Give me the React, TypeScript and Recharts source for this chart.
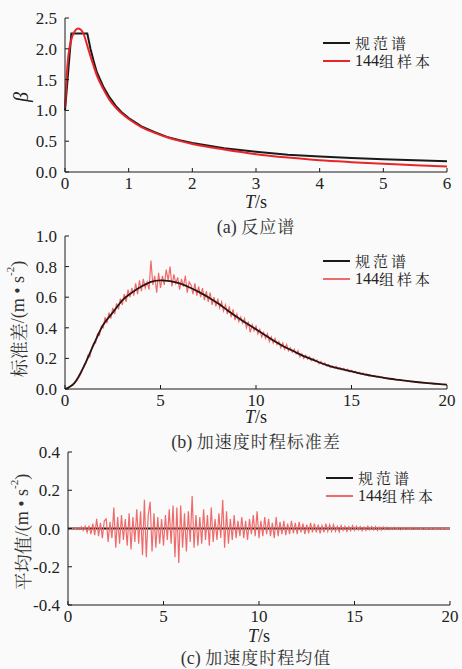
import React from 'react';
import { LineChart, Line, XAxis, YAxis, Legend } from 'recharts';

// (a) response spectrum
const specT = [0, 0.04, 0.1, 0.15, 0.2, 0.25, 0.3, 0.35, 0.4, 0.45, 0.5, 0.6, 0.7, 0.8, 0.9, 1.0, 1.2, 1.4, 1.6, 1.8, 2.0, 2.5, 3.0, 3.5, 4.0, 4.5, 5.0, 5.5, 6.0];
const specCode = [1.0, 1.5, 2.25, 2.25, 2.25, 2.25, 2.25, 2.25, 2.0, 1.8, 1.62, 1.39, 1.21, 1.07, 0.96, 0.875, 0.74, 0.65, 0.57, 0.515, 0.47, 0.385, 0.33, 0.28, 0.25, 0.226, 0.206, 0.19, 0.175];
const specSample = [1.04, 1.75, 2.15, 2.28, 2.33, 2.31, 2.22, 2.05, 1.88, 1.72, 1.57, 1.35, 1.17, 1.04, 0.94, 0.86, 0.73, 0.64, 0.565, 0.505, 0.455, 0.365, 0.29, 0.235, 0.19, 0.16, 0.135, 0.11, 0.09];

// (b) standard deviation of acceleration history
const stdT = [0, 0.5, 1, 1.5, 2, 2.5, 3, 3.5, 4, 4.5, 5, 5.5, 6, 6.5, 7, 7.5, 8, 8.5, 9, 9.5, 10, 10.5, 11, 11.5, 12, 12.5, 13, 13.5, 14, 14.5, 15, 15.5, 16, 16.5, 17, 17.5, 18, 18.5, 19, 19.5, 20];
const stdCode = [0, 0.04, 0.15, 0.29, 0.42, 0.5, 0.58, 0.63, 0.67, 0.7, 0.71, 0.705, 0.69, 0.665, 0.635, 0.6, 0.56, 0.515, 0.47, 0.43, 0.39, 0.35, 0.31, 0.275, 0.245, 0.215, 0.19, 0.165, 0.145, 0.13, 0.115, 0.1, 0.088, 0.077, 0.067, 0.059, 0.051, 0.044, 0.038, 0.033, 0.028];
const STEP = 0.1;
const stdSample = [
  0, 0.004, 0.01, 0.02, 0.028, 0.04, 0.05, 0.07, 0.09, 0.12,
  0.16, 0.17, 0.22, 0.21, 0.27, 0.3, 0.3, 0.36, 0.35, 0.41,
  0.4, 0.47, 0.43, 0.5, 0.46, 0.53, 0.49, 0.56, 0.52, 0.59,
  0.55, 0.62, 0.57, 0.65, 0.6, 0.66, 0.61, 0.69, 0.62, 0.71,
  0.64, 0.72, 0.66, 0.7, 0.65, 0.84, 0.68, 0.74, 0.63, 0.76,
  0.66, 0.74, 0.68, 0.78, 0.71, 0.8, 0.67, 0.75, 0.69, 0.73,
  0.65, 0.72, 0.67, 0.74, 0.63, 0.7, 0.68, 0.62, 0.69, 0.61,
  0.67, 0.6, 0.66, 0.58, 0.64, 0.57, 0.63, 0.55, 0.6, 0.54,
  0.59, 0.53, 0.57, 0.51, 0.55, 0.49, 0.54, 0.47, 0.52, 0.45,
  0.49, 0.44, 0.47, 0.43, 0.46, 0.4, 0.44, 0.37, 0.42, 0.38,
  0.41, 0.36, 0.39, 0.34, 0.37, 0.33, 0.36, 0.31, 0.34, 0.3,
  0.33, 0.29, 0.31, 0.27, 0.3, 0.26, 0.29, 0.25, 0.27, 0.24,
  0.26, 0.23, 0.25, 0.21, 0.23, 0.2, 0.22, 0.195, 0.21, 0.185,
  0.2, 0.18, 0.19, 0.165, 0.18, 0.16, 0.17, 0.15, 0.16, 0.14,
  0.15, 0.138, 0.148, 0.13, 0.14, 0.125, 0.135, 0.12, 0.13, 0.112,
  0.122, 0.108, 0.116, 0.103, 0.11, 0.097, 0.104, 0.092, 0.098, 0.087,
  0.092, 0.083, 0.088, 0.078, 0.083, 0.074, 0.079, 0.07, 0.074, 0.067,
  0.07, 0.063, 0.067, 0.06, 0.063, 0.057, 0.06, 0.054, 0.057, 0.051,
  0.053, 0.048, 0.05, 0.045, 0.048, 0.043, 0.045, 0.041, 0.042, 0.038,
  0.04, 0.036, 0.038, 0.034, 0.036, 0.032, 0.033, 0.03, 0.031, 0.029,
  0.028,
];

// (c) mean of acceleration history
const meanT = [0, 20];
const meanCode = [0, 0];
const meanSample = [
  0, 0.002, -0.003, 0.004, -0.002, 0.005, -0.006, 0.008, -0.01, 0.012,
  -0.02, 0.015, -0.03, 0.025, -0.035, 0.05, -0.04, 0.03, -0.05, 0.04,
  0.05, -0.07, 0.035, -0.05, 0.11, -0.1, 0.06, -0.08, 0.07, -0.06,
  0.05, -0.09, 0.08, -0.11, 0.06, -0.07, 0.1, -0.08, 0.09, -0.14,
  0.15, -0.15, 0.07, 0.14, -0.12, 0.08, -0.1, 0.06, -0.08, 0.05,
  -0.09, 0.07, -0.06, 0.1, -0.08, 0.12, -0.15, 0.11, -0.18, 0.12,
  -0.1, 0.08, -0.12, 0.09, -0.07, 0.17, -0.1, 0.07, -0.09, 0.06,
  -0.08, 0.1, -0.06, 0.07, -0.09, 0.11, -0.07, 0.05, -0.06, 0.08,
  -0.05, 0.15, -0.1, 0.09, -0.08, 0.05, -0.06, 0.07, -0.05, 0.04,
  -0.04, 0.06, -0.05, 0.04, -0.06, 0.05, -0.03, 0.07, -0.04, 0.09,
  -0.05, 0.04, -0.04, 0.06, -0.03, 0.05, -0.04, 0.03, -0.05, 0.06,
  -0.04, 0.035, -0.03, 0.04, -0.035, 0.025, -0.03, 0.04, -0.025, 0.03,
  -0.03, 0.035, -0.02, 0.025, -0.03, 0.02, -0.025, 0.03, -0.02, 0.025,
  -0.02, 0.02, -0.025, 0.015, -0.02, 0.025, -0.015, 0.02, -0.015, 0.02,
  -0.015, 0.012, -0.018, 0.015, -0.01, 0.012, -0.015, 0.01, -0.012, 0.015,
  -0.01, 0.012, -0.008, 0.01, -0.012, 0.008, -0.01, 0.012, -0.008, 0.01,
  -0.008, 0.01, -0.01, 0.007, -0.008, 0.009, -0.006, 0.008, -0.007, 0.006,
  -0.006, 0.007, -0.005, 0.006, -0.007, 0.005, -0.004, 0.006, -0.005, 0.004,
  -0.005, 0.006, -0.004, 0.005, -0.004, 0.003, -0.005, 0.004, -0.003, 0.004,
  -0.003, 0.004, -0.003, 0.002, -0.004, 0.003, -0.002, 0.003, -0.002, 0.002,
  0,
];

const zip = (ts: number[], vs: number[]) => ts.map((t, i) => ({ t, v: vs[i] }));
const sampled = (vs: number[]) => vs.map((v, i) => ({ t: +(i * STEP).toFixed(2), v }));

const LAT = 'Liberation Serif';
const CJK = 'Noto Serif CJK SC';
const INK = '#1a1a1a';
const tickStyle = { fontFamily: LAT, fontSize: 17, fill: '#222' };

const boxed = { display: 'inline-block', height: 16, lineHeight: '16px', overflow: 'visible' as const };

const LegendBox = ({ sampleColor }: { sampleColor: string }) => (
  <div style={{ fontSize: 15, color: '#222' }}>
    {[['', '规范谱', INK], ['144', '组样本', sampleColor]].map(([num, name, c]) => (
      <div key={name} style={{ display: 'flex', alignItems: 'center', height: 18 }}>
        <span style={{ display: 'inline-block', width: 27, height: 2, background: c, marginRight: 5 }} />
        {num && <span style={{ ...boxed, fontFamily: LAT, fontSize: 16 }}>{num}</span>}
        <span style={{ ...boxed, fontFamily: CJK, letterSpacing: 3 }}>{name}</span>
      </div>
    ))}
  </div>
);

const XLabel = (dy: number) => (props: any) => {
  const vb = props.viewBox;
  return (
    <text x={vb.x + vb.width / 2} y={vb.y + dy} textAnchor="middle" fontFamily={LAT} fontSize={18} fill="#222">
      <tspan fontStyle="italic">T</tspan>/s
    </text>
  );
};

const YLabel = (cx: number, cy: number, greek?: boolean, name?: string) => () => {
  if (greek) {
    return (
      <text x={cx} y={cy} transform={`rotate(-90 ${cx} ${cy})`} textAnchor="middle" dominantBaseline="central"
        fontFamily={LAT} fontStyle="italic" fontSize={20} fill="#222">β</text>
    );
  }
  return (
    <text x={cx} y={cy} transform={`rotate(-90 ${cx} ${cy})`} textAnchor="middle" dominantBaseline="central"
      fontFamily={LAT} fontSize={18} fill="#333">
      <tspan fontFamily={CJK}>{name}</tspan>/(m • s<tspan dy={-8} fontSize={11}>-2</tspan><tspan dy={8}>)</tspan>
    </text>
  );
};

const Caption = ({ top, tag, text }: { top: number; tag: string; text: string }) => (
  <div style={{ position: 'absolute', top, left: 65, width: 382, height: 18, textAlign: 'center', fontSize: 17, color: '#333' }}>
    <span style={{ ...boxed, height: 18, lineHeight: '18px', fontFamily: LAT, fontSize: 18 }}>{tag}&nbsp;</span>
    <span style={{ ...boxed, height: 18, lineHeight: '18px', fontFamily: CJK, letterSpacing: 1 }}>{text}</span>
  </div>
);

export default function App() {
  const red = '#e8262a';
  const salmon = '#ef6b6b';
  return (
    <div style={{ position: 'absolute', left: 0, top: 0, width: 462, height: 669, background: '#fafafa', overflow: 'hidden' }}>
      <div style={{ position: 'absolute', top: 0, left: 0 }}>
        <LineChart width={462} height={215} margin={{ top: 18, right: 15, left: 0, bottom: 0 }}>
          <XAxis type="number" dataKey="t" domain={[0, 6]} ticks={[0, 1, 2, 3, 4, 5, 6]} height={43}
            tick={tickStyle} tickSize={-4} tickMargin={9} stroke={INK} allowDuplicatedCategory={false}
            label={{ content: XLabel(36) }} />
          <YAxis type="number" domain={[0, 2.5]} ticks={[0, 0.5, 1, 1.5, 2, 2.5]} width={65}
            tickFormatter={(v: number) => v.toFixed(1)} tick={tickStyle} tickSize={-4} tickMargin={12} stroke={INK}
            label={{ content: YLabel(21, 97, true) }} />
          <Legend layout="vertical" align="center" verticalAlign="middle" wrapperStyle={{ position: 'absolute', top: 34, left: 323, width: 134 }}
            content={() => <LegendBox sampleColor={red} />} />
          <Line data={zip(specT, specCode)} dataKey="v" name="规范谱" type="linear" stroke={INK} strokeWidth={2} dot={false} isAnimationActive={false} />
          <Line data={zip(specT, specSample)} dataKey="v" name="144组样本" type="monotone" stroke={red} strokeWidth={2} dot={false} isAnimationActive={false} />
        </LineChart>
      </div>
      <Caption top={217} tag="(a)" text="反应谱" />

      <div style={{ position: 'absolute', top: 220, left: 0 }}>
        <LineChart width={462} height={215} margin={{ top: 16, right: 15, left: 0, bottom: 0 }}>
          <XAxis type="number" dataKey="t" domain={[0, 20]} ticks={[0, 5, 10, 15, 20]} height={46}
            tick={tickStyle} tickSize={-4} tickMargin={9} stroke={INK} allowDuplicatedCategory={false}
            label={{ content: XLabel(34) }} />
          <YAxis type="number" domain={[0, 1]} ticks={[0, 0.2, 0.4, 0.6, 0.8, 1]} width={65}
            tickFormatter={(v: number) => v.toFixed(1)} tick={tickStyle} tickSize={-4} tickMargin={12} stroke={INK}
            label={{ content: YLabel(18, 99, false, '标准差') }} />
          <Legend layout="vertical" align="center" verticalAlign="middle" wrapperStyle={{ position: 'absolute', top: 32, left: 323, width: 134 }}
            content={() => <LegendBox sampleColor={salmon} />} />
          <Line data={sampled(stdSample)} dataKey="v" name="144组样本" type="linear" stroke={salmon} strokeWidth={1.2} dot={false} isAnimationActive={false} />
          <Line data={zip(stdT, stdCode)} dataKey="v" name="规范谱" type="monotone" stroke="#2a1414" strokeWidth={1.8} dot={false} isAnimationActive={false} />
        </LineChart>
      </div>
      <Caption top={432} tag="(b)" text="加速度时程标准差" />

      <div style={{ position: 'absolute', top: 440, left: 0 }}>
        <LineChart width={462} height={215} margin={{ top: 12, right: 12, left: 0, bottom: 0 }}>
          <XAxis type="number" dataKey="t" domain={[0, 20]} ticks={[0, 5, 10, 15, 20]} height={50}
            tick={tickStyle} tickSize={-4} tickMargin={9} stroke={INK} allowDuplicatedCategory={false}
            label={{ content: XLabel(37) }} />
          <YAxis type="number" domain={[-0.4, 0.4]} ticks={[-0.4, -0.2, 0, 0.2, 0.4]} width={68}
            tickFormatter={(v: number) => v.toFixed(1)} tick={tickStyle} tickSize={-4} tickMargin={12} stroke={INK}
            label={{ content: YLabel(22, 92, false, '平均值') }} />
          <Legend layout="vertical" align="center" verticalAlign="middle" wrapperStyle={{ position: 'absolute', top: 29, left: 326, width: 134 }}
            content={() => <LegendBox sampleColor={salmon} />} />
          <Line data={zip(meanT, meanCode)} dataKey="v" name="规范谱" type="linear" stroke={INK} strokeWidth={2} dot={false} isAnimationActive={false} />
          <Line data={sampled(meanSample)} dataKey="v" name="144组样本" type="linear" stroke={salmon} strokeWidth={1.2} dot={false} isAnimationActive={false} />
        </LineChart>
      </div>
      <Caption top={648} tag="(c)" text="加速度时程均值" />
    </div>
  );
}
